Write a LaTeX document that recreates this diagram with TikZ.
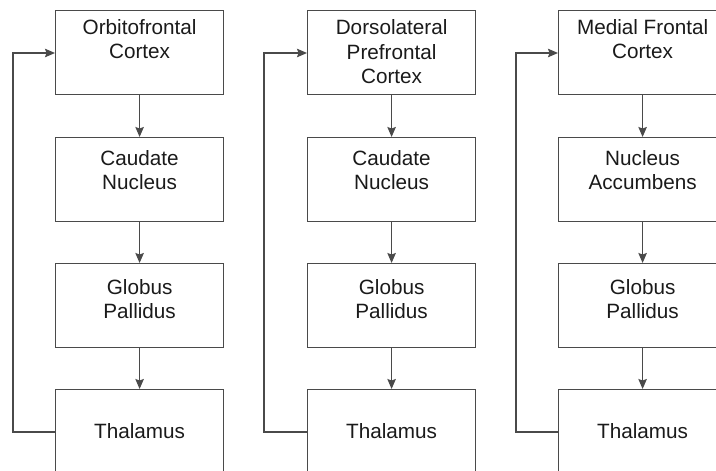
\documentclass[tikz,border=0pt]{standalone}
\usepackage{fontspec}
\setmainfont{Liberation Sans}
\usetikzlibrary{arrows.meta}
\definecolor{linegray}{HTML}{4A4A4A}
\definecolor{textgray}{HTML}{1A1A1A}
\begin{document}
\begin{tikzpicture}[x=1pt,y=-1pt,
  box/.style={draw=linegray, line width=1.2pt, minimum width=168pt, minimum height=84pt, inner sep=0pt, anchor=north west},
  lastbox/.style={box, minimum height=110pt},
  lbl/.style={anchor=north, inner sep=0pt, align=center, text=textgray, font=\fontsize{20.7}{24.5}\selectfont},
  flow/.style={draw=linegray, line width=1.2pt, -{Stealth[length=10pt,width=8.5pt,inset=1.5pt]}}]
\useasboundingbox (0,0) rectangle (716,471);
\clip (0,0) rectangle (716,471);
% column 1
\node[box] (a1) at (55,10) {};
\node[box] (a2) at (55,137) {};
\node[box] (a3) at (55,263) {};
\node[lastbox] (a4) at (55,389) {};
\node[lbl] (ta1) at (a1.north |- 0,19) {Orbitofrontal\\Cortex};
\node[lbl] (ta2) at (a2.north |- 0,150) {Caudate\\Nucleus};
\node[lbl] (ta3) at (a3.north |- 0,279) {Globus\\Pallidus};
\node[lbl] (ta4) at (a4.north |- 0,423) {Thalamus};
\draw[flow] (a1.south) -- (a2.north);
\draw[flow] (a2.south) -- (a3.north);
\draw[flow] (a3.south) -- (a4.north);
\coordinate (ka) at (13,432);
\coordinate (kb) at (13,53);
\draw[flow] (a4.west |- ka) -- (ka) -- (kb) -- (kb -| a1.west);
% column 2
\node[box] (b1) at (307,10) {};
\node[box] (b2) at (307,137) {};
\node[box] (b3) at (307,263) {};
\node[lastbox] (b4) at (307,389) {};
\node[lbl] (tb1) at (b1.north |- 0,19.5) {Dorsolateral\\Prefrontal\\Cortex};
\node[lbl] (tb2) at (b2.north |- 0,150) {Caudate\\Nucleus};
\node[lbl] (tb3) at (b3.north |- 0,279) {Globus\\Pallidus};
\node[lbl] (tb4) at (b4.north |- 0,423) {Thalamus};
\draw[flow] (b1.south) -- (b2.north);
\draw[flow] (b2.south) -- (b3.north);
\draw[flow] (b3.south) -- (b4.north);
\coordinate (la) at (264,432);
\coordinate (lb) at (264,53);
\draw[flow] (b4.west |- la) -- (la) -- (lb) -- (lb -| b1.west);
% column 3
\node[box] (c1) at (558,10) {};
\node[box] (c2) at (558,137) {};
\node[box] (c3) at (558,263) {};
\node[lastbox] (c4) at (558,389) {};
\node[lbl] (tc1) at (c1.north |- 0,19) {Medial Frontal\\Cortex};
\node[lbl] (tc2) at (c2.north |- 0,150) {Nucleus\\Accumbens};
\node[lbl] (tc3) at (c3.north |- 0,279) {Globus\\Pallidus};
\node[lbl] (tc4) at (c4.north |- 0,423) {Thalamus};
\draw[flow] (c1.south) -- (c2.north);
\draw[flow] (c2.south) -- (c3.north);
\draw[flow] (c3.south) -- (c4.north);
\coordinate (ma) at (516,432);
\coordinate (mb) at (516,53);
\draw[flow] (c4.west |- ma) -- (ma) -- (mb) -- (mb -| c1.west);
\end{tikzpicture}
\end{document}
